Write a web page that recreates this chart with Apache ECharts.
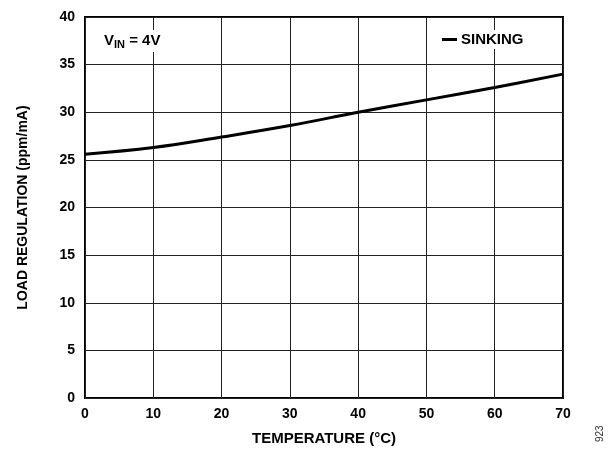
<!DOCTYPE html>
<html><head><meta charset="utf-8">
<script src="https://cdn.jsdelivr.net/npm/echarts@6/dist/echarts.min.js"></script>
<style>html,body{margin:0;padding:0;background:#fff}#c{width:610px;height:451px}</style>
</head><body><div id="c"></div>
<script>
const temps = [0, 10, 20, 30, 40, 50, 60, 70];
const sinking = [25.6, 26.3, 27.4, 28.6, 30.0, 31.3, 32.6, 34.0];
const seriesName = 'SINKING';
const xTitle = 'TEMPERATURE (°C)';
const yTitle = 'LOAD REGULATION (ppm/mA)';

const font = 'Liberation Sans, Arial, sans-serif';
const chart = echarts.init(document.getElementById('c'), null, {renderer:'canvas'});
chart.setOption({
  animation:false,
  grid:{left:85, right:47, top:17, bottom:53, show:true, borderColor:'#000', borderWidth:2},
  legend:{show:true, data:[seriesName], left:440, top:30, itemWidth:15, itemHeight:3, itemGap:5, icon:'rect',
    backgroundColor:'#fff', padding:[2,2,2,2],
    textStyle:{fontFamily:font, fontWeight:'bold', fontSize:15, color:'#000', padding:[0,0,0,-1]}},
  xAxis:{type:'value', min:0, max:70, interval:10, name:xTitle, nameLocation:'middle', nameGap:33,
    nameTextStyle:{fontFamily:font, fontWeight:'bold', fontSize:15, color:'#000'},
    axisLine:{show:false}, axisTick:{show:false},
    axisLabel:{fontFamily:font, fontWeight:'bold', fontSize:14, color:'#000', margin:9},
    splitLine:{show:true, lineStyle:{color:'#222', width:1}}},
  yAxis:{type:'value', min:0, max:40, interval:5, name:yTitle, nameLocation:'middle', nameGap:55,
    nameTextStyle:{fontFamily:font, fontWeight:'bold', fontSize:14, color:'#000'},
    axisLine:{show:false}, axisTick:{show:false},
    axisLabel:{fontFamily:font, fontWeight:'bold', fontSize:14, color:'#000', margin:10},
    splitLine:{show:true, lineStyle:{color:'#222', width:1}}},
  graphic:[
    {type:'text', left:102, top:30, z:10, style:{backgroundColor:'#fff', padding:[2,2,2,2], rich:{a:{fontFamily:font, fontWeight:'bold', fontSize:15, fill:'#000'}, s:{fontFamily:font, fontWeight:'bold', fontSize:11, fill:'#000', verticalAlign:'bottom', padding:[7,0,0,0]}}, text:'{a|V}{s|IN}{a| = 4V}'}},
    {type:'text', x:600, y:442, rotation:Math.PI/2, style:{text:'923', fontFamily:font, fontSize:10, fill:'#333', align:'left', verticalAlign:'middle'}}
  ],
  series:[{name:seriesName, type:'line', data:temps.map((t,i)=>[t, sinking[i]]), smooth:0.4, showSymbol:false,
    lineStyle:{color:'#000', width:3}, itemStyle:{color:'#000'}}]
});
</script></body></html>
